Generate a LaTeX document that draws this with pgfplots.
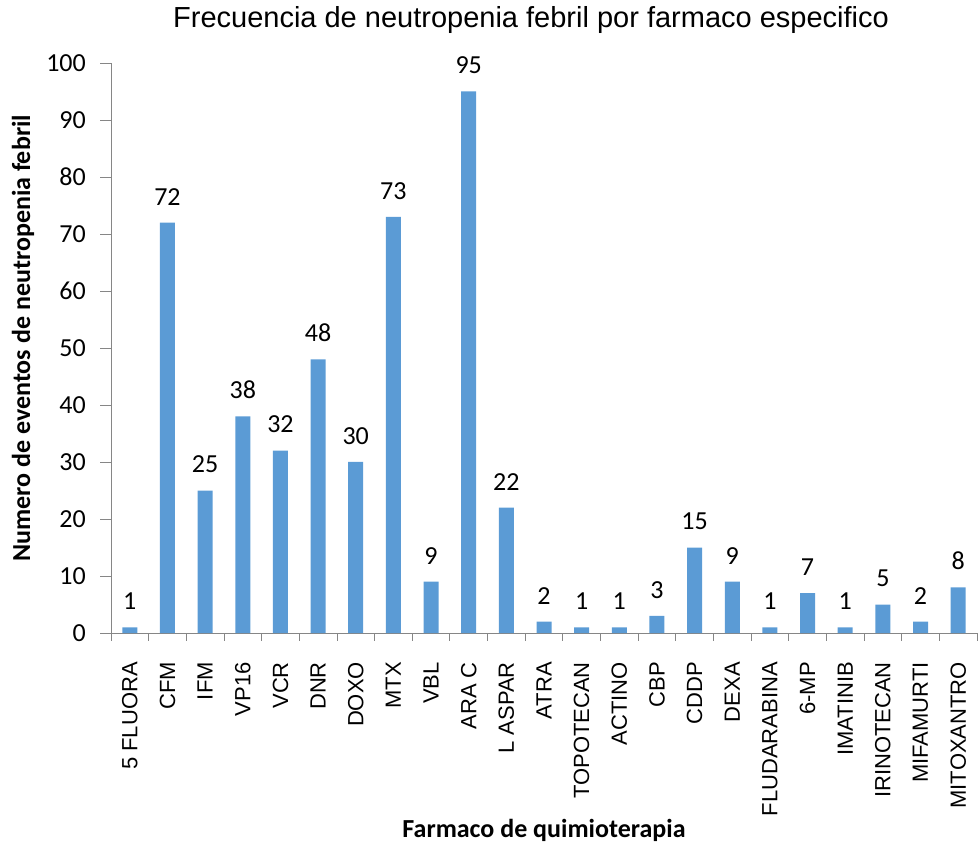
\documentclass[border=0pt]{standalone}
\usepackage{pgfplots}
\pgfplotsset{compat=1.18}
\usepackage{fontspec}
\setmainfont{Carlito}
\newfontfamily\arialfont{Liberation Sans}
\definecolor{barblue}{HTML}{5B9BD5}
\definecolor{axgray}{HTML}{868686}

\pgfplotstableread{
x y
0 1
1 72
2 25
3 38
4 32
5 48
6 30
7 73
8 9
9 95
10 22
11 2
12 1
13 1
14 3
15 15
16 9
17 1
18 7
19 1
20 5
21 2
22 8
}\datatable

\begin{document}
\begin{tikzpicture}
\path[use as bounding box] (-111bp,-215bp) rectangle (868bp,633bp);
\begin{axis}[
  at={(0,0)}, anchor=south west,
  scale only axis,
  width=866bp, height=570bp,
  xmin=-0.5, xmax=22.5,
  ymin=0, ymax=100,
  axis x line=bottom, axis y line=left,
  axis line style={draw=axgray, line width=0.8bp, -},
  every tick/.style={draw=axgray, line width=0.8bp},
  tick align=outside,
  xtick={0,...,22},
  major x tick style={draw=none},
  minor xtick={-0.5,0.5,...,22.5},
  minor tick length=8bp,
  xticklabels={5 FLUORA,CFM,IFM,VP16,VCR,DNR,DOXO,MTX,VBL,ARA C,L ASPAR,ATRA,TOPOTECAN,ACTINO,CBP,CDDP,DEXA,FLUDARABINA,6-MP,IMATINIB,IRINOTECAN,MIFAMURTI,MITOXANTRO},
  xticklabel style={rotate=90, anchor=east, font=\arialfont\fontsize{22bp}{25bp}\selectfont, inner sep=0pt},
  xticklabel shift=18bp,
  ytick={0,10,...,100},
  major tick length=11bp,
  yticklabel style={font=\fontsize{26bp}{28bp}\selectfont, inner sep=0pt},
  yticklabel shift=14bp,
  /pgf/number format/assume math mode=true,
  title={\arialfont\fontsize{29bp}{32bp}\selectfont Frecuencia de neutropenia febril por farmaco especifico},
  title style={at={(axis description cs:0.485,1.065)}, anchor=center, inner sep=0pt},
  xlabel={\bfseries Farmaco de quimioterapia},
  xlabel style={font=\fontsize{26bp}{28bp}\selectfont, at={(axis description cs:0.5,-0.347)}, anchor=center, inner sep=0pt},
  ylabel={\bfseries Numero de eventos de neutropenia febril},
  ylabel style={font=\fontsize{26bp}{28bp}\selectfont, at={(axis description cs:-0.1016,0.517)}, anchor=center, inner sep=0pt},
  clip=false,
  nodes near coords,
  every node near coord/.append style={font=\fontsize{26bp}{28bp}\selectfont, text=black, anchor=south, yshift=14bp},
]
\addplot[ybar, bar width=15bp, fill=barblue, draw=none] table[x=x, y=y] {\datatable};
\end{axis}
\end{tikzpicture}
\end{document}
